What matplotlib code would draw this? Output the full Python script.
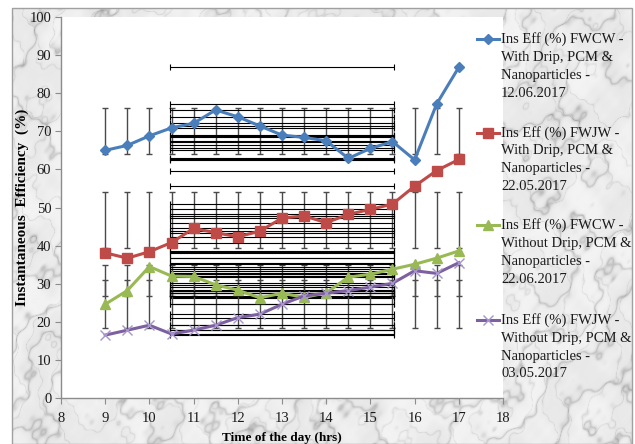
import numpy as np
import matplotlib
matplotlib.use('Agg')
from matplotlib import pyplot as plt
from matplotlib.lines import Line2D
from matplotlib.patches import Rectangle

# hora do dia (h)
hours = [9, 9.5, 10, 10.5, 11, 11.5, 12, 12.5, 13, 13.5, 14, 14.5, 15, 15.5, 16, 16.5, 17]

# eficiencia instantanea (%) de cada ensaio
eff_fwcw_drip = [65.0, 66.3, 68.8, 70.9, 72.1, 75.6, 73.8, 71.4, 69.0, 68.4, 67.5, 62.9, 65.5, 67.3, 62.5, 77.2, 86.8]
eff_fwjw_drip = [38.1, 36.7, 38.4, 40.8, 44.5, 43.4, 42.3, 43.8, 47.2, 47.8, 46.0, 48.2, 49.5, 50.9, 55.6, 59.7, 62.6]
eff_fwcw_nodrip = [24.6, 28.2, 34.5, 32.0, 31.9, 29.7, 28.3, 26.3, 27.5, 26.4, 27.6, 31.7, 32.5, 33.8, 35.1, 36.7, 38.6]
eff_fwjw_nodrip = [16.5, 17.8, 19.1, 16.8, 17.8, 19.1, 21.1, 22.0, 24.6, 26.8, 27.5, 28.2, 29.1, 30.1, 33.4, 32.7, 35.5]

labels = [
    'Ins Eff (%) FWCW -\nWith Drip, PCM &\nNanoparticles -\n12.06.2017',
    'Ins Eff (%) FWJW -\nWith Drip, PCM &\nNanoparticles -\n22.05.2017',
    'Ins Eff (%) FWCW -\nWithout Drip, PCM &\nNanoparticles -\n22.06.2017',
    'Ins Eff (%) FWJW -\nWithout Drip, PCM &\nNanoparticles -\n03.05.2017',
]

series = [eff_fwcw_drip, eff_fwjw_drip, eff_fwcw_nodrip, eff_fwjw_nodrip]
estilos = [
    dict(color='#4a7ebb', marker='D', markersize=5.5, mec='#4a7ebb'),
    dict(color='#be4b48', marker='s', markersize=7, mec='#be4b48'),
    dict(color='#98b954', marker='^', markersize=7.5, mec='#98b954'),
    dict(color='#7d60a0', marker='x', markersize=7, mec='#a796cc', mew=1.0),
]

serif = ['Liberation Serif', 'DejaVu Serif']
W, H = 635, 444

fig = plt.figure(figsize=(W / 100, H / 100), dpi=100)
fig.patch.set_facecolor('white')

# fundo marmorizado atras do grafico
bg = fig.add_axes([12 / W, 0, (632 - 12) / W, 1 - 8 / H], zorder=-10)
yy, xx = np.mgrid[0:440, 0:620] / 100.0
turb = (np.sin(xx * 2.3 + yy * 1.7) * 0.9 + np.sin(xx * 5.1 - yy * 3.7) * 0.5
        + np.sin(xx * 11.3 + yy * 8.9) * 0.25 + np.sin(xx * 23.0 - yy * 19.0) * 0.12
        + np.sin(xx * 47.0 + yy * 41.0) * 0.06)
veia = np.abs(np.sin(xx * 3.0 + yy * 4.0 + turb * 2.2))
veia2 = np.abs(np.sin(xx * 6.5 - yy * 2.5 + turb * 3.1))
tex = (0.95 - 0.18 * (1 - veia) ** 6 - 0.10 * (1 - veia2) ** 10
       - 0.04 * (0.5 + 0.5 * np.sin(turb * 3)))
bg.imshow(tex, cmap='gray', vmin=0, vmax=1, aspect='auto', interpolation='bilinear')
bg.set_axis_off()
fig.add_artist(Rectangle((12 / W, 0), (632 - 12) / W, 1 - 8 / H, transform=fig.transFigure,
                         fill=False, edgecolor='#a0a0a0', lw=1.0, zorder=-5))

ax = fig.add_axes([61 / W, 1 - 398 / H, 442 / W, 381 / H])
ax.set_facecolor('white')

x = np.array(hours)
x_mean = x.mean()
x_sd = x.std(ddof=1)

# barras de erro tipo "desvio padrao": centradas na media da serie
for y in series:
    y = np.array(y)
    ax.errorbar(x, np.full(len(x), y.mean()), yerr=y.std(ddof=1), fmt='none',
                ecolor='#4a4a4a', elinewidth=1.0, capsize=2.5, capthick=1.0, zorder=1)
    ax.errorbar(np.full(len(y), x_mean), y, xerr=x_sd, fmt='none',
                ecolor='black', elinewidth=0.8, capsize=2.5, capthick=0.8, zorder=1)

for y, st in zip(series, estilos):
    ax.plot(x, y, lw=2.2, zorder=3, **st)

ax.set_xlim(8, 18)
ax.set_ylim(0, 100)
ax.set_xticks(range(8, 19))
ax.set_yticks(range(0, 101, 10))
for s in ['top', 'right']:
    ax.spines[s].set_visible(False)
for s in ['left', 'bottom']:
    ax.spines[s].set_color('#8c8c8c')
    ax.spines[s].set_linewidth(1.0)
ax.tick_params(direction='out', length=4, color='#8c8c8c', labelcolor='#1a1a1a',
               labelsize=10.5)
ax.tick_params(axis='x', pad=6)
ax.tick_params(axis='y', pad=3)
for t in ax.get_xticklabels() + ax.get_yticklabels():
    t.set_family(serif)

ax.set_ylabel('Instantaneous  Efficiency  (%)', family=serif, fontsize=11,
              fontweight='bold')
ax.yaxis.set_label_coords(-0.072, 0.5)
ax.set_xlabel('Time of the day (hrs)', family=serif, fontsize=9.5,
              fontweight='bold', labelpad=5)

# legenda desenhada a mao, marcador alinhado com a primeira linha
leg_y = [39.3, 132.7, 225.3, 320.0]
for lab, st, yp in zip(labels, estilos, leg_y):
    yf = 1 - yp / H
    fig.add_artist(Line2D([477 / W, 488 / W, 499 / W], [yf, yf, yf], transform=fig.transFigure,
                          lw=2.2, markevery=[1], zorder=5, **st))
    fig.text(501 / W, yf + 7 / H, lab, family=serif, fontsize=10.5, color='#1a1a1a',
             va='top', ha='left', linespacing=1.48, transform=fig.transFigure)

fig.savefig('out.png', dpi=100)
